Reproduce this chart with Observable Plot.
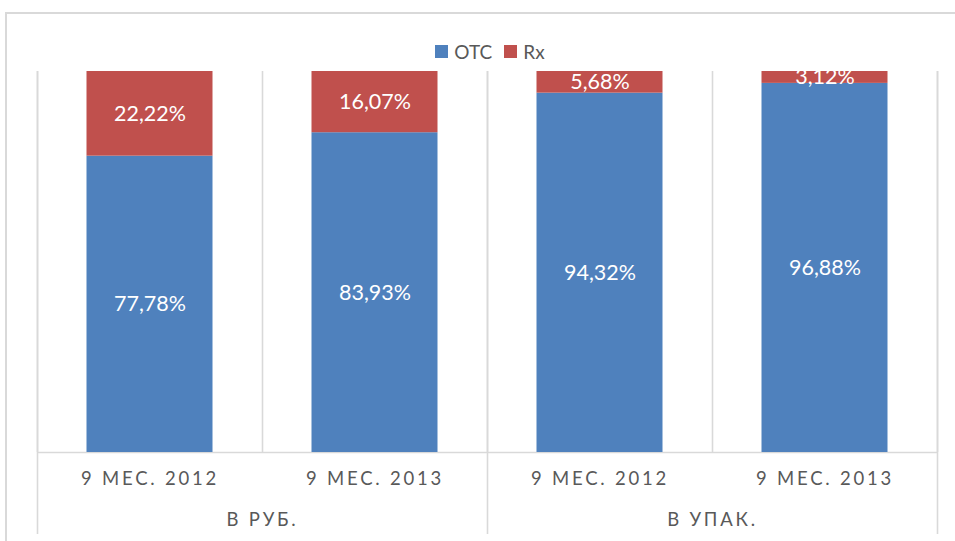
<!DOCTYPE html>
<html>
<head>
<meta charset="utf-8">
<script src="https://cdn.jsdelivr.net/npm/d3@7"></script>
<script src="https://cdn.jsdelivr.net/npm/@observablehq/plot@0.6"></script>
<style>
  html, body { margin: 0; padding: 0; background: #fff; }
  #wrap { position: relative; width: 955px; height: 541px; overflow: hidden; background: #fff; }
  #frame { position: absolute; left: 5px; top: 12px; width: 1200px; height: 800px; border: 2px solid #d9d9d9; box-sizing: border-box; }
  #legend { position: absolute; top: 40px; left: 0; width: 980px; display: flex; justify-content: center; align-items: center; font-family: Lato, sans-serif; font-size: 19px; color: #595959; }
  #legend .item { display: flex; align-items: center; margin: 0 6px; }
  #legend .sw { width: 13px; height: 13px; margin-right: 6px; }
  #chart { position: absolute; left: 0; top: 0; }
  .spaced, .spaced text { letter-spacing: 2.8px; }
</style>
</head>
<body>
<div id="wrap">
  <div id="frame"></div>
  <div id="chart"></div>
  <div id="legend"></div>
</div>
<script>
// ---- data ----
const groups = ["В РУБ.", "В УПАК."];
const periods = ["9 МЕС. 2012", "9 МЕС. 2013"];
const series = ["OTC", "Rx"];
const colors = ["#4F81BD", "#C0504D"];
const otcValues = [77.78, 83.93, 94.32, 96.88];
const rxValues = [22.22, 16.07, 5.68, 3.12];

// categories (group × period)
const cats = [];
groups.forEach((g, gi) => periods.forEach((p, pi) => cats.push({i: gi * periods.length + pi, group: g, period: p})));

const rows = [];
cats.forEach((c) => {
  rows.push({i: c.i, series: "OTC", value: otcValues[c.i]});
  rows.push({i: c.i, series: "Rx", value: rxValues[c.i]});
});
const fmt = (v) => v.toFixed(2).replace(".", ",") + "%";
const bounds = d3.range(cats.length + 1);
const groupBounds = d3.range(0, cats.length + 1, periods.length);
const groupRows = groups.map((g, gi) => ({group: g, center: gi * periods.length + periods.length / 2}));

const gridColor = "#d9d9d9";

const plot = Plot.plot({
  width: 955,
  height: 541,
  marginTop: 71,
  marginBottom: 89,
  marginLeft: 37,
  marginRight: 18,
  x: {domain: [0, cats.length], axis: null},
  y: {domain: [0, 100], axis: null},
  color: {domain: series, range: colors},
  style: {fontFamily: "Lato, sans-serif", background: "transparent"},
  marks: [
    Plot.ruleX(bounds, {x: (d) => d, stroke: gridColor, strokeWidth: 1.6}),
    Plot.ruleX(groupBounds, {x: (d) => d, stroke: gridColor, strokeWidth: 1.6, insetBottom: -82}),
    Plot.ruleY([0], {stroke: gridColor, strokeWidth: 1.6}),
    Plot.rectY(rows, Plot.stackY({
      x1: (d) => d.i, x2: (d) => d.i + 1, y: "value", z: "series", fill: "series",
      order: series, insetLeft: 49.5, insetRight: 49.5
    })),
    Plot.text(rows, Plot.stackY({
      x: (d) => d.i + 0.5, y: "value", z: "series", order: series,
      text: (d) => fmt(d.value), fill: "white", fontSize: 21.5, clip: true
    })),
    Plot.text(cats, {
      x: (d) => d.i + 0.5, text: "period", frameAnchor: "bottom", dy: 32,
      fill: "#595959", fontSize: 18.5, className: "spaced"
    }),
    Plot.text(groupRows, {
      x: "center", text: "group", frameAnchor: "bottom", dy: 73,
      fill: "#595959", fontSize: 18.5, className: "spaced"
    })
  ]
});
document.getElementById("chart").appendChild(plot);

// letter spacing for category labels (fallback if className unsupported)
const axisTexts = new Set([...periods, ...groups]);
d3.select(plot).selectAll("text").filter(function () { return axisTexts.has(this.textContent); })
  .style("letter-spacing", "2.8px");

// legend
const leg = d3.select("#legend");
series.forEach((s, k) => {
  const it = leg.append("div").attr("class", "item");
  it.append("div").attr("class", "sw").style("background", colors[k]);
  it.append("span").text(s);
});
</script>
</body>
</html>
